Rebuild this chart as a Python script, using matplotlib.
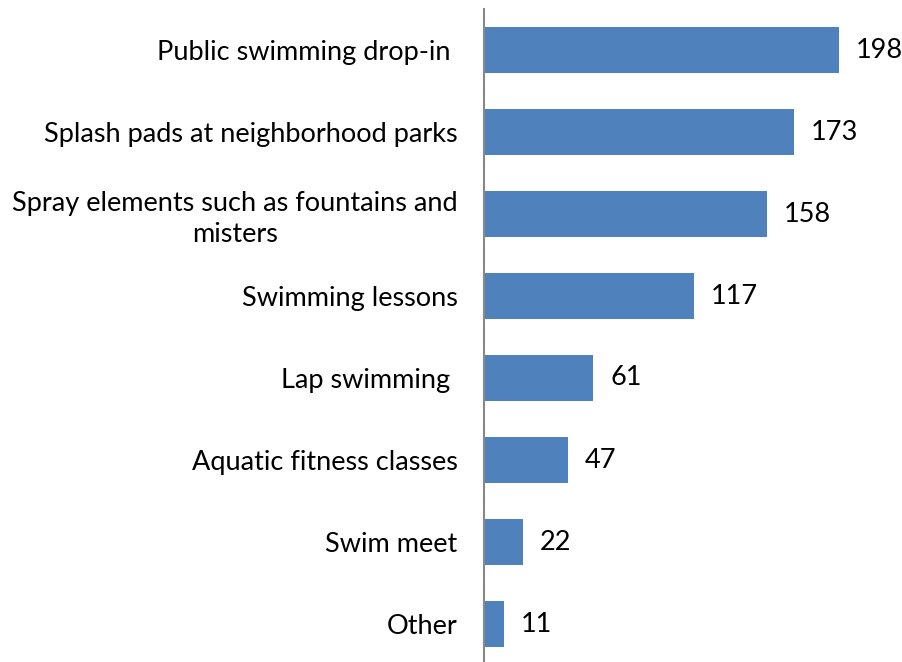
import matplotlib.pyplot as plt

categories = [
    "Public swimming drop-in ",
    "Splash pads at neighborhood parks",
    "Spray elements such as fountains and\nmisters",
    "Swimming lessons",
    "Lap swimming ",
    "Aquatic fitness classes",
    "Swim meet",
    "Other",
]
values = [198, 173, 158, 117, 61, 47, 22, 11]

plt.rcParams['font.family'] = ['Lato', 'DejaVu Sans']

fig = plt.figure(figsize=(9.03, 6.62), dpi=100)
ax = fig.add_axes([484 / 903, -3 / 662, 419 / 903, 656 / 662])

pos = list(range(len(categories)))
bars = ax.barh(pos, values, height=0.56, color="#4F81BD")
ax.set_ylim(len(categories) - 0.5, -0.5)
ax.set_xlim(0, 419 / 1.793)

ax.set_yticks(pos)
ax.set_yticklabels(categories, fontsize=19.5, multialignment="center", linespacing=1.3)
ax.tick_params(axis="y", length=0, pad=19)
ax.set_xticks([])

for s in ["top", "right", "bottom"]:
    ax.spines[s].set_visible(False)
ax.spines["left"].set_color("#888888")
ax.spines["left"].set_linewidth(1.5)

ax.bar_label(bars, labels=[str(v) for v in values], padding=12, fontsize=19.5)

fig.savefig("out.png", dpi=100)
